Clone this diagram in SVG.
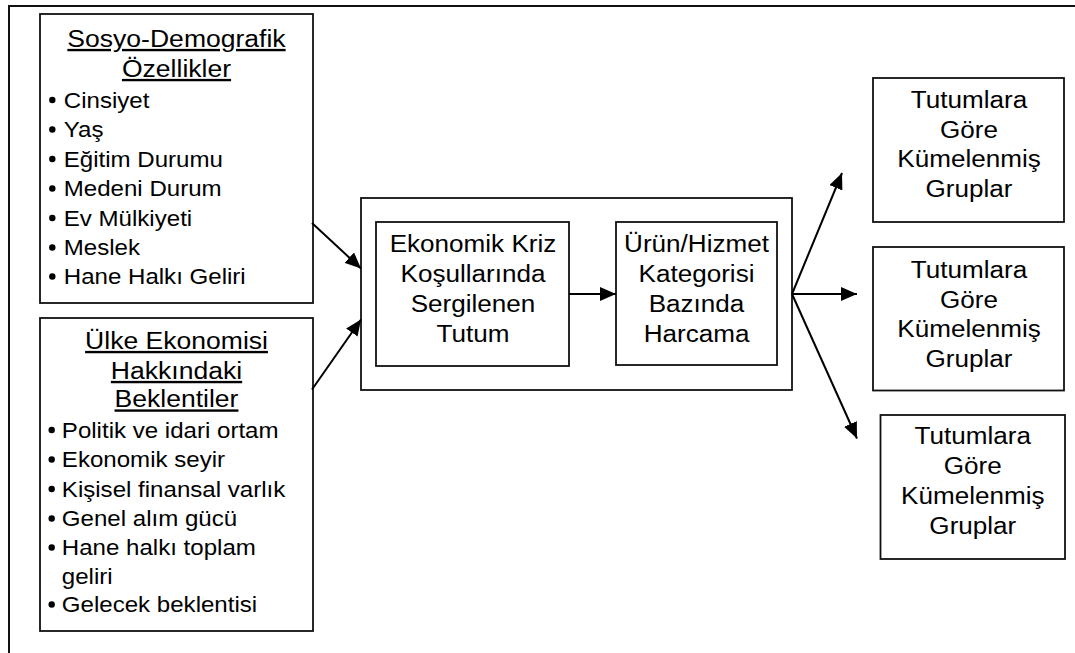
<svg xmlns="http://www.w3.org/2000/svg" width="1075" height="653" viewBox="0 0 1075 653">
<defs>
<marker id="ah" markerUnits="userSpaceOnUse" markerWidth="18" markerHeight="14" refX="16" refY="7" orient="auto">
<path d="M0,0 L16,7 L0,14 Z" fill="#000"/>
</marker>
<style>
.box{fill:#fff;stroke:#111;stroke-width:1.8}
.frame{fill:none;stroke:#111;stroke-width:2}
.con{stroke:#000;stroke-width:2;fill:none;marker-end:url(#ah)}
text{font-family:"Liberation Sans",Arial,sans-serif;font-size:23.3px;fill:#000}
.c{text-anchor:middle}
.u{text-decoration:underline;font-size:23.7px}
.i{font-size:22.5px}
.b{fill:#000}
</style>
</defs>
<rect width="1075" height="653" fill="#fff"/>
<path class="frame" d="M9,653 L9,6 L1075,6"/>

<g id="sosyo">
<rect class="box" x="40" y="14" width="273" height="289"/>
<g transform="scale(1.12,1)">
<text class="c u" x="157.6" y="47">Sosyo-Demografik</text>
<text class="c u" x="157.6" y="77">Özellikler</text>
</g>
<g transform="scale(1.07,1)">
<text class="i" x="59.6" y="108">Cinsiyet</text>
<text class="i" x="59.6" y="137.5">Yaş</text>
<text class="i" x="59.6" y="167">Eğitim Durumu</text>
<text class="i" x="59.6" y="196.5">Medeni Durum</text>
<text class="i" x="59.6" y="226">Ev Mülkiyeti</text>
<text class="i" x="59.6" y="255.5">Meslek</text>
<text class="i" x="59.6" y="284.5">Hane Halkı Geliri</text>
</g>
<circle class="b" cx="52.3" cy="100" r="3.2"/>
<circle class="b" cx="52.3" cy="129.5" r="3.2"/>
<circle class="b" cx="52.3" cy="159" r="3.2"/>
<circle class="b" cx="52.3" cy="188.5" r="3.2"/>
<circle class="b" cx="52.3" cy="218" r="3.2"/>
<circle class="b" cx="52.3" cy="247.5" r="3.2"/>
<circle class="b" cx="52.3" cy="276.5" r="3.2"/>
</g>

<g id="ulke">
<rect class="box" x="40" y="318" width="273" height="313"/>
<g transform="scale(1.12,1)">
<text class="c u" x="157.6" y="349">Ülke Ekonomisi</text>
<text class="c u" x="157.6" y="379">Hakkındaki</text>
<text class="c u" x="157.6" y="407.5">Beklentiler</text>
</g>
<g transform="scale(1.07,1)">
<text class="i" x="57.8" y="438">Politik ve idari ortam</text>
<text class="i" x="57.8" y="467.5">Ekonomik seyir</text>
<text class="i" x="57.8" y="497">Kişisel finansal varlık</text>
<text class="i" x="57.8" y="526.5">Genel alım gücü</text>
<text class="i" x="57.8" y="555.5">Hane halkı toplam</text>
<text class="i" x="57.8" y="584">geliri</text>
<text class="i" x="57.8" y="612.5">Gelecek beklentisi</text>
</g>
<circle class="b" cx="51.7" cy="430" r="3.2"/>
<circle class="b" cx="51.7" cy="459.5" r="3.2"/>
<circle class="b" cx="51.7" cy="489" r="3.2"/>
<circle class="b" cx="51.7" cy="518.5" r="3.2"/>
<circle class="b" cx="51.7" cy="547.5" r="3.2"/>
<circle class="b" cx="51.7" cy="604.5" r="3.2"/>
</g>

<g id="merkez">
<rect class="box" x="361" y="198" width="431" height="192"/>
</g>

<g id="tutum">
<rect class="box" x="376" y="222" width="193" height="144"/>
<g transform="scale(1.12,1)">
<text class="c" x="422.3" y="252.3">Ekonomik Kriz</text>
<text class="c" x="422.3" y="282.3">Koşullarında</text>
<text class="c" x="422.3" y="312.3">Sergilenen</text>
<text class="c" x="422.3" y="342.3">Tutum</text>
</g>
</g>

<g id="harcama">
<rect class="box" x="616" y="222" width="161" height="143"/>
<g transform="scale(1.12,1)">
<text class="c" x="621.9" y="252.3">Ürün/Hizmet</text>
<text class="c" x="621.9" y="282.3">Kategorisi</text>
<text class="c" x="621.9" y="312.3">Bazında</text>
<text class="c" x="621.9" y="342.3">Harcama</text>
</g>
</g>

<g id="grup1">
<rect class="box" x="873" y="78" width="191" height="144"/>
<g transform="scale(1.12,1)">
<text class="c" x="865.2" y="108.3">Tutumlara</text>
<text class="c" x="865.2" y="138.3">Göre</text>
<text class="c" x="865.2" y="167.3">Kümelenmiş</text>
<text class="c" x="865.2" y="196.7">Gruplar</text>
</g>
</g>

<g id="grup2">
<rect class="box" x="873" y="247" width="191" height="143.5"/>
<g transform="scale(1.12,1)">
<text class="c" x="865.2" y="278.3">Tutumlara</text>
<text class="c" x="865.2" y="308.3">Göre</text>
<text class="c" x="865.2" y="337.3">Kümelenmiş</text>
<text class="c" x="865.2" y="366.7">Gruplar</text>
</g>
</g>

<g id="grup3">
<rect class="box" x="880.5" y="415" width="184.5" height="144"/>
<g transform="scale(1.12,1)">
<text class="c" x="868.6" y="444.5">Tutumlara</text>
<text class="c" x="868.6" y="474.5">Göre</text>
<text class="c" x="868.6" y="504.5">Kümelenmiş</text>
<text class="c" x="868.6" y="534">Gruplar</text>
</g>
</g>

<g id="connectors">
<line class="con" x1="312" y1="223" x2="361" y2="268.5"/>
<line class="con" x1="312" y1="389.5" x2="361" y2="319.5"/>
<line class="con" x1="569" y1="294" x2="616" y2="294"/>
<line class="con" x1="792" y1="294" x2="842" y2="173"/>
<line class="con" x1="792" y1="294" x2="857" y2="294"/>
<line class="con" x1="792" y1="294" x2="857" y2="438.5"/>
</g>
</svg>
